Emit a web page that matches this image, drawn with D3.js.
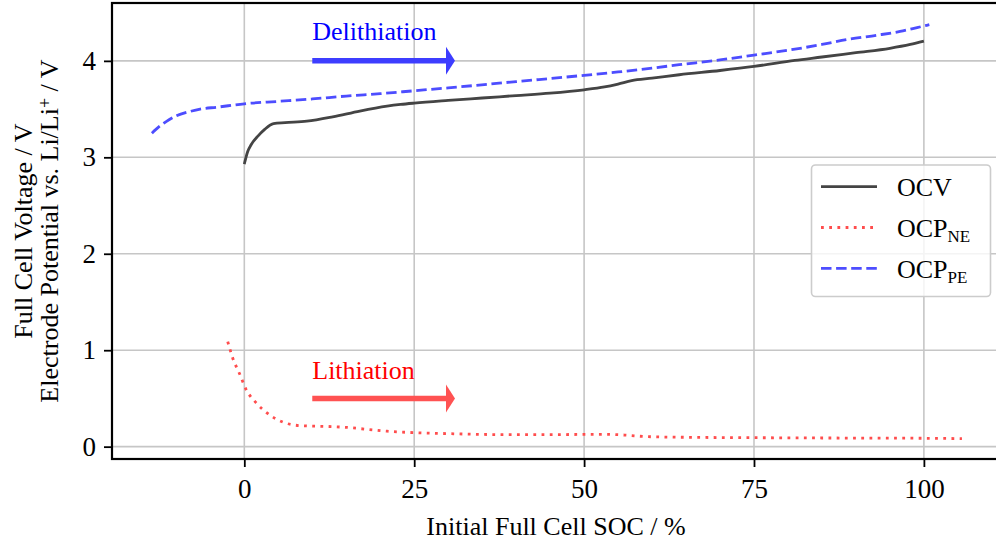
<!DOCTYPE html>
<html>
<head>
<meta charset="utf-8">
<script src="https://cdn.jsdelivr.net/npm/d3@7"></script>
<style>
  body { margin: 0; background: #fff; }
  svg text { font-family: "Liberation Serif", "Times New Roman", serif; white-space: pre; }
</style>
</head>
<body>
<svg id="chart" width="996" height="548"></svg>
<script>
// full cell open circuit voltage vs. initial SOC
var ocvSoc = [0, 0.5, 1, 2, 3, 4.3, 6, 9.2, 13, 17, 21, 23, 25, 30, 35, 40, 45, 50, 53, 55, 57, 60, 64, 70, 75, 81, 85, 90, 95, 98, 100]
var ocvV = [2.93, 3.06, 3.13, 3.22, 3.29, 3.35, 3.36, 3.375, 3.42, 3.48, 3.53, 3.548, 3.562, 3.59, 3.615, 3.64, 3.665, 3.70, 3.73, 3.76, 3.795, 3.82, 3.856, 3.90, 3.942, 4.005, 4.04, 4.085, 4.13, 4.17, 4.205]

// negative electrode potential
var neSoc = [-2.44, -1.7, -0.73, 0.25, 1.72, 3.53, 5.74, 8.2, 13.1, 15, 18, 21, 25, 30, 37.6, 45, 53.1, 56, 59.2, 65, 74.9, 85, 100, 105.6]
var neV = [1.09, 0.917, 0.761, 0.595, 0.456, 0.339, 0.253, 0.218, 0.207, 0.20, 0.18, 0.16, 0.145, 0.135, 0.125, 0.125, 0.128, 0.12, 0.104, 0.097, 0.093, 0.09, 0.087, 0.083]

// positive electrode potential
var peSoc = [-13.6, -12.5, -11.5, -10, -8, -6.5, -4, 0, 5, 10, 15, 20, 25, 30, 40, 50, 55, 60, 64, 70, 75, 80, 85, 89, 93, 96.5, 99, 100.8]
var peV = [3.25, 3.32, 3.37, 3.43, 3.475, 3.50, 3.52, 3.555, 3.58, 3.605, 3.635, 3.66, 3.69, 3.72, 3.785, 3.85, 3.885, 3.925, 3.96, 4.01, 4.06, 4.11, 4.17, 4.225, 4.265, 4.305, 4.345, 4.375]

var xTicks = [0, 25, 50, 75, 100]
var yTicks = [0, 1, 2, 3, 4]

var svg = d3.select('#chart')
var plotLeft = 112, plotRight = 1000, plotTop = 3, plotBottom = 459

var x = d3.scaleLinear().domain([-19.47, 111.2]).range([plotLeft, plotRight])
var y = d3.scaleLinear().domain([-0.128, 4.6]).range([plotBottom, plotTop])

var plot = svg.append('g')

// grid
plot.selectAll('line.vgrid').data(xTicks).enter().append('line')
    .attr('x1', function(d) { return x(d) }).attr('x2', function(d) { return x(d) })
    .attr('y1', plotTop).attr('y2', plotBottom)
    .attr('stroke', '#c6c6c6').attr('stroke-width', 1.6)
plot.selectAll('line.hgrid').data(yTicks).enter().append('line')
    .attr('x1', plotLeft).attr('x2', plotRight)
    .attr('y1', function(d) { return y(d) }).attr('y2', function(d) { return y(d) })
    .attr('stroke', '#c6c6c6').attr('stroke-width', 1.6)

function series(xs, ys) {
    return xs.map(function(v, i) { return [v, ys[i]] })
}
var line = d3.line()
    .x(function(d) { return x(d[0]) })
    .y(function(d) { return y(d[1]) })
    .curve(d3.curveMonotoneX)

plot.append('path').datum(series(ocvSoc, ocvV))
    .attr('d', line).attr('fill', 'none')
    .attr('stroke', '#444').attr('stroke-width', 2.8)
plot.append('path').datum(series(neSoc, neV))
    .attr('d', line).attr('fill', 'none')
    .attr('stroke', '#ff4d4d').attr('stroke-width', 2.8)
    .attr('stroke-dasharray', '2.8,5.4')
plot.append('path').datum(series(peSoc, peV))
    .attr('d', line).attr('fill', 'none')
    .attr('stroke', '#4d4dff').attr('stroke-width', 2.8)
    .attr('stroke-dasharray', '10.5,4.6')

// direction arrows with labels
function arrow(x0, x1, v, color) {
    var yy = y(v), tip = x(x1)
    plot.append('line')
        .attr('x1', x(x0)).attr('x2', tip - 8)
        .attr('y1', yy).attr('y2', yy)
        .attr('stroke', color).attr('stroke-width', 5.5)
    plot.append('path')
        .attr('d', 'M' + (tip - 9) + ',' + (yy - 14) + 'L' + tip + ',' + yy + 'L' + (tip - 9) + ',' + (yy + 14) + 'Z')
        .attr('fill', color)
}
arrow(10, 31, 4.0, '#3d3dff')
arrow(10, 31, 0.5, '#ff5252')

plot.append('text').attr('x', x(10)).attr('y', y(4.219))
    .attr('font-size', 26).attr('fill', '#0000ff').text('Delithiation')
plot.append('text').attr('x', x(10)).attr('y', y(0.70))
    .attr('font-size', 26).attr('fill', '#ff0000').text('Lithiation')

// axes
var xAxis = svg.append('g').attr('transform', 'translate(0,' + plotBottom + ')')
    .call(d3.axisBottom(x).tickValues(xTicks).tickSize(8).tickPadding(8).tickFormat(d3.format('d')))
var yAxis = svg.append('g').attr('transform', 'translate(' + plotLeft + ',0)')
    .call(d3.axisLeft(y).tickValues(yTicks).tickSize(8).tickPadding(8).tickFormat(d3.format('d')))
;[xAxis, yAxis].forEach(function(a) {
    a.select('.domain').remove()
    a.selectAll('line').attr('stroke', '#000').attr('stroke-width', 1.8)
    a.selectAll('text').attr('font-size', 27).attr('fill', '#000')
        .style('font-family', '"Liberation Serif", serif')
})
xAxis.selectAll('text').attr('dy', '0.85em')

svg.append('rect')
    .attr('x', plotLeft).attr('y', plotTop)
    .attr('width', plotRight - plotLeft).attr('height', plotBottom - plotTop)
    .attr('fill', 'none').attr('stroke', '#000').attr('stroke-width', 2.2)

svg.append('text').attr('x', (plotLeft + plotRight) / 2).attr('y', 535)
    .attr('text-anchor', 'middle').attr('font-size', 26)
    .text('Initial Full Cell SOC / %')

var yl = svg.append('g').attr('transform', 'translate(0,' + ((plotTop + plotBottom) / 2) + ') rotate(-90)')
yl.append('text').attr('x', 0).attr('y', 32)
    .attr('text-anchor', 'middle').attr('font-size', 26)
    .text('Full Cell Voltage / V')
var yl2 = yl.append('text').attr('x', 0).attr('y', 58)
    .attr('text-anchor', 'middle').attr('font-size', 26)
yl2.append('tspan').text('Electrode Potential vs. Li/Li')
yl2.append('tspan').attr('baseline-shift', '40%').attr('font-size', 18).text('+')
yl2.append('tspan').text(' / V')

// legend
var legend = svg.append('g')
legend.append('rect')
    .attr('x', 811.5).attr('y', 165).attr('width', 179).attr('height', 131.5)
    .attr('rx', 4).attr('fill', '#fff').attr('fill-opacity', 0.8)
    .attr('stroke', '#cccccc').attr('stroke-width', 1.6)
var entries = [
    { name: 'OCV', sub: '', color: '#444', dash: null },
    { name: 'OCP', sub: 'NE', color: '#ff4d4d', dash: '2.8,5.4' },
    { name: 'OCP', sub: 'PE', color: '#4d4dff', dash: '10.5,4.6' }
]
legend.selectAll('g.entry').data(entries).enter().append('g')
    .each(function(d, i) {
        var g = d3.select(this), yy = 186.7 + i * 40.8
        g.append('line')
            .attr('x1', 821).attr('x2', 877).attr('y1', yy).attr('y2', yy)
            .attr('stroke', d.color).attr('stroke-width', 2.8)
            .attr('stroke-dasharray', d.dash)
        var t = g.append('text').attr('x', 897).attr('y', yy + 9.5).attr('font-size', 26)
        t.append('tspan').text(d.name)
        if (d.sub) t.append('tspan').attr('font-size', 17).attr('dy', 5).text(d.sub)
    })
</script>
</body>
</html>
